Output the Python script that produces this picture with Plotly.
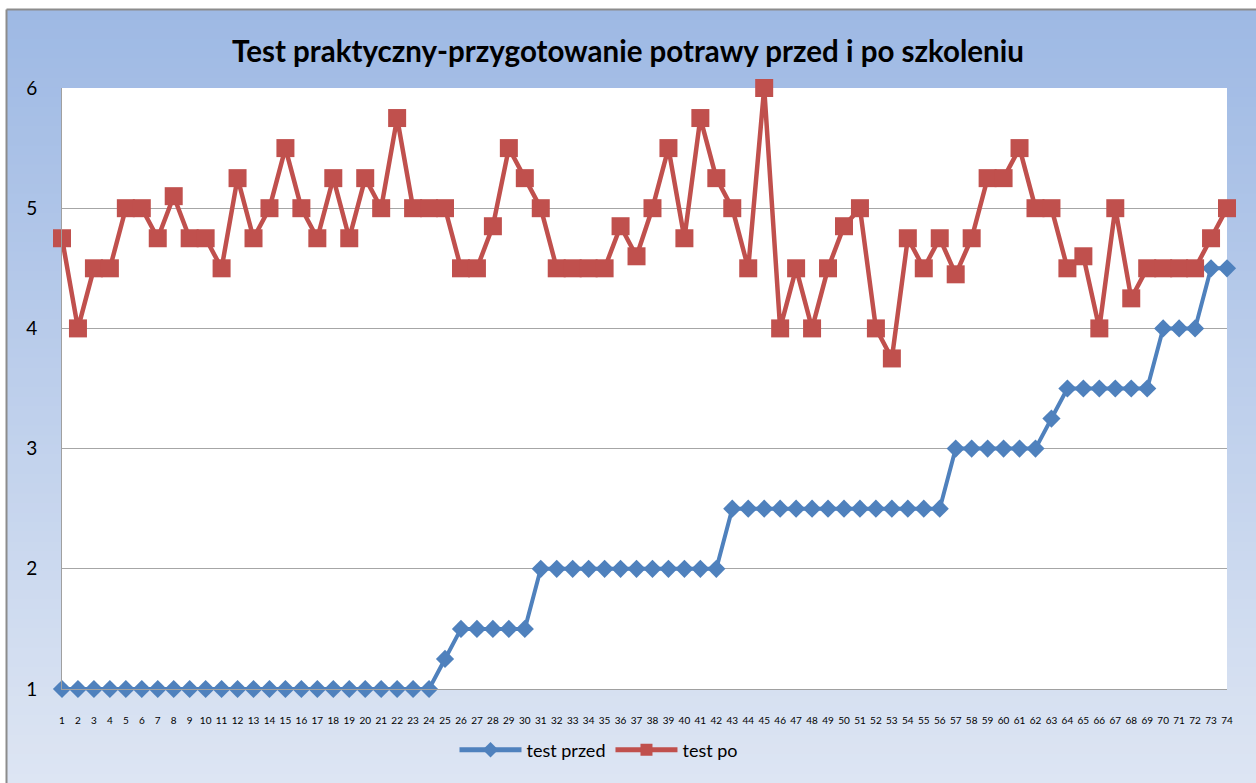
import plotly.graph_objects as go

# ---- data ----
participants = list(range(1, 75))
tick_labels = [str(i) for i in participants]

test_przed = [1] * 24 + [1.25] + [1.5] * 5 + [2] * 12 + [2.5] * 14 + [3] * 6 + [3.25] + [3.5] * 6 + [4] * 3 + [4.5] * 2

test_po = [
    4.75, 4.0, 4.5, 4.5, 5.0, 5.0, 4.75, 5.1, 4.75, 4.75,
    4.5, 5.25, 4.75, 5.0, 5.5, 5.0, 4.75, 5.25, 4.75, 5.25,
    5.0, 5.75, 5.0, 5.0, 5.0, 4.5, 4.5, 4.85, 5.5, 5.25,
    5.0, 4.5, 4.5, 4.5, 4.5, 4.85, 4.6, 5.0, 5.5, 4.75,
    5.75, 5.25, 5.0, 4.5, 6.0, 4.0, 4.5, 4.0, 4.5, 4.85,
    5.0, 4.0, 3.75, 4.75, 4.5, 4.75, 4.45, 4.75, 5.25, 5.25,
    5.5, 5.0, 5.0, 4.5, 4.6, 4.0, 5.0, 4.25, 4.5, 4.5,
    4.5, 4.5, 4.75, 5.0,
]

y_ticks = [1, 2, 3, 4, 5, 6]

# ---- geometry (pixels) ----
W, H = 1256, 783
L, R, T, B = 62, 1227, 88, 689


def px_x(px):
    return (px - L) / (R - L)


def px_y(py):
    return (B - py) / (B - T)


def lerp(c1, c2, t):
    return "rgb(%d,%d,%d)" % tuple(round(a + (b - a) * t) for a, b in zip(c1, c2))


top_col = (158, 185, 228)
bot_col = (221, 229, 243)

shapes = []
N = 80
y0p, y1p = 10, H
for i in range(N):
    a = y0p + (y1p - y0p) * i / N
    b = y0p + (y1p - y0p) * (i + 1) / N + 1
    shapes.append(dict(type="rect", xref="paper", yref="paper",
                       x0=px_x(7), x1=px_x(W + 5), y0=px_y(b), y1=px_y(a),
                       fillcolor=lerp(top_col, bot_col, i / (N - 1)),
                       line=dict(width=0), layer="below"))
# white plot area
shapes.append(dict(type="rect", xref="x domain", yref="y domain", x0=0, x1=1, y0=0, y1=1,
                   fillcolor="white", line=dict(width=0), layer="below"))
# outer frame lines
shapes.append(dict(type="line", xref="paper", yref="paper",
                   x0=px_x(6.5), x1=px_x(W + 5), y0=px_y(9.5), y1=px_y(9.5),
                   line=dict(color="#8c8c8c", width=2), layer="below"))
shapes.append(dict(type="line", xref="paper", yref="paper",
                   x0=px_x(6.5), x1=px_x(6.5), y0=px_y(9.5), y1=px_y(H + 5),
                   line=dict(color="#8c8c8c", width=2), layer="below"))

fig = go.Figure()
fig.add_trace(go.Scatter(
    x=participants, y=test_przed, name="test przed", mode="lines+markers",
    line=dict(color="#4F81BD", width=4),
    marker=dict(symbol="diamond", size=14, color="#4F81BD"),
    cliponaxis=False,
))
fig.add_trace(go.Scatter(
    x=participants, y=test_po, name="test po", mode="lines+markers",
    line=dict(color="#C0504D", width=4.5),
    marker=dict(symbol="square", size=18, color="#C0504D"),
    cliponaxis=False,
))

fig.update_layout(
    width=W, height=H,
    margin=dict(l=L, r=W - R, t=T, b=H - B),
    paper_bgcolor="white",
    plot_bgcolor="white",
    shapes=shapes,
    title=dict(text="<b>Test praktyczny-przygotowanie potrawy przed i po szkoleniu</b>",
               x=0.5, xanchor="center", y=1 - 52 / H, yanchor="middle",
               font=dict(family="Lato", size=29.5, color="black")),
    legend=dict(orientation="h", x=px_x(599), xanchor="center", y=px_y(750), yanchor="middle",
                font=dict(family="Lato", size=18, color="black"),
                bgcolor="rgba(0,0,0,0)", itemsizing="constant", itemwidth=62),
    xaxis=dict(range=[1, 74], tickmode="array", tickvals=participants, ticktext=tick_labels,
               showgrid=False, showline=True, linecolor="#a0a0a0", linewidth=1,
               ticks="", tickangle=0, ticklabelstandoff=22,
               tickfont=dict(family="Lato", size=10, color="black"), zeroline=False),
    yaxis=dict(range=[1, 6], tickmode="array", tickvals=y_ticks,
               showgrid=True, gridcolor="#a6a6a6", gridwidth=1,
               showline=True, linecolor="#a0a0a0", linewidth=1,
               ticks="", ticklabelstandoff=20,
               tickfont=dict(family="Lato", size=19, color="black"), zeroline=False),
    showlegend=True,
)

fig.write_html("out.html",
               config={"displayModeBar": False},
               post_script="document.body.style.margin='0';document.body.style.overflow='hidden';")
